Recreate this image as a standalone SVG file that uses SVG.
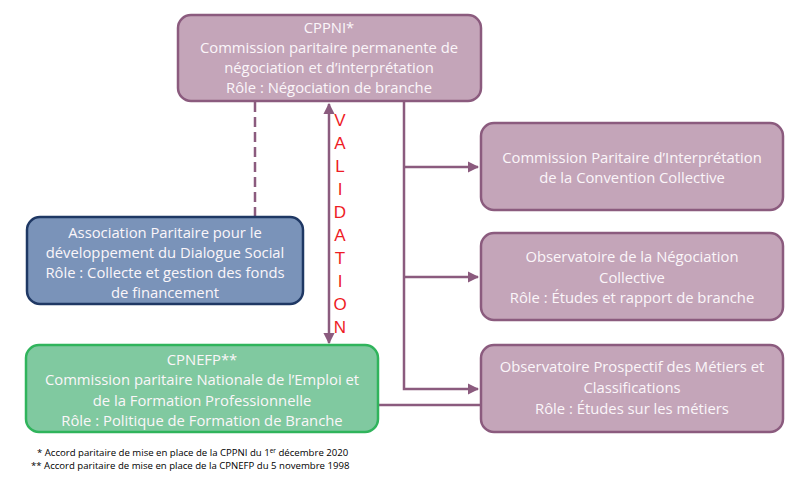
<svg xmlns="http://www.w3.org/2000/svg" width="800" height="477" viewBox="0 0 800 477">
<style>
.box{stroke-width:2.5}
.mauve{fill:#c4a5b9;stroke:#8b5b7e}
.blue{fill:#7a93b9;stroke:#1f3864}
.green{fill:#80c9a0;stroke:#30b45c}
.t{font-family:"Open Sans","Liberation Sans",sans-serif;font-size:14.8px;fill:#fbf6f9;text-anchor:middle}
.c{stroke:#8b5b7e;stroke-width:2.5;fill:none}
.v{font-family:"Liberation Sans",sans-serif;font-size:17px;fill:#ee1c25;text-anchor:middle}
.f{font-family:"Open Sans","Liberation Sans",sans-serif;font-size:9.6px;fill:#000}
</style>
<defs>
<marker id="ah" viewBox="0 0 10 10" refX="9" refY="5" markerWidth="4.5" markerHeight="4.5" orient="auto-start-reverse" markerUnits="strokeWidth">
<path d="M0,0 L10,5 L0,10 z" fill="#8b5b7e"/>
</marker>
</defs>
<g id="connectors">
<line class="c" x1="255" y1="102" x2="255" y2="216" stroke-dasharray="10,5"/>
<line class="c" x1="329" y1="104" x2="329" y2="343" marker-start="url(#ah)" marker-end="url(#ah)"/>
<polyline class="c" points="404,102 404,389 478,389" marker-end="url(#ah)"/>
<line class="c" x1="404" y1="167" x2="478" y2="167" marker-end="url(#ah)"/>
<line class="c" x1="404" y1="277" x2="478" y2="277" marker-end="url(#ah)"/>
<line class="c" x1="378" y1="405" x2="480" y2="405"/>
</g>
<g id="validation">
<text class="v" x="340" y="126">V</text>
<text class="v" x="340" y="149">A</text>
<text class="v" x="340" y="172">L</text>
<text class="v" x="340" y="195">I</text>
<text class="v" x="340" y="218">D</text>
<text class="v" x="340" y="241">A</text>
<text class="v" x="340" y="264">T</text>
<text class="v" x="340" y="287">I</text>
<text class="v" x="340" y="310">O</text>
<text class="v" x="340" y="333">N</text>
</g>
<g id="cppni">
<rect class="box mauve" x="178" y="15" width="303" height="86" rx="13"/>
<text class="t" x="329" y="33">CPPNI*</text>
<text class="t" x="329" y="53">Commission paritaire permanente de</text>
<text class="t" x="329" y="73">négociation et d’interprétation</text>
<text class="t" x="329" y="93">Rôle : Négociation de branche</text>
</g>
<g id="apdds">
<rect class="box blue" x="27" y="217" width="276" height="87" rx="13"/>
<text class="t" x="165" y="238">Association Paritaire pour le</text>
<text class="t" x="165" y="258">développement du Dialogue Social</text>
<text class="t" x="165" y="278">Rôle : Collecte et gestion des fonds</text>
<text class="t" x="165" y="298">de financement</text>
</g>
<g id="cpnefp">
<rect class="box green" x="26" y="345" width="352" height="87" rx="13"/>
<text class="t" x="202" y="365">CPNEFP**</text>
<text class="t" x="202" y="385">Commission paritaire Nationale de l’Emploi et</text>
<text class="t" x="202" y="406">de la Formation Professionnelle</text>
<text class="t" x="202" y="426">Rôle : Politique de Formation de Branche</text>
</g>
<g id="cpi">
<rect class="box mauve" x="481" y="123" width="302" height="87" rx="13"/>
<text class="t" x="632" y="163">Commission Paritaire d’Interprétation</text>
<text class="t" x="632" y="183">de la Convention Collective</text>
</g>
<g id="onc">
<rect class="box mauve" x="481" y="233" width="302" height="87" rx="13"/>
<text class="t" x="632" y="262">Observatoire de la Négociation</text>
<text class="t" x="632" y="283">Collective</text>
<text class="t" x="632" y="303">Rôle : Études et rapport de branche</text>
</g>
<g id="opmc">
<rect class="box mauve" x="481" y="345" width="302" height="87" rx="13"/>
<text class="t" x="632" y="372">Observatoire Prospectif des Métiers et</text>
<text class="t" x="632" y="393">Classifications</text>
<text class="t" x="632" y="414">Rôle : Études sur les métiers</text>
</g>
<g id="footnotes">
<text class="f" x="37" y="456">* Accord paritaire de mise en place de la CPPNI du 1<tspan font-size="6.5" dy="-3.5">er</tspan><tspan dy="3.5"> décembre 2020</tspan></text>
<text class="f" x="31" y="469">** Accord paritaire de mise en place de la CPNEFP du 5 novembre 1998</text>
</g>
</svg>
